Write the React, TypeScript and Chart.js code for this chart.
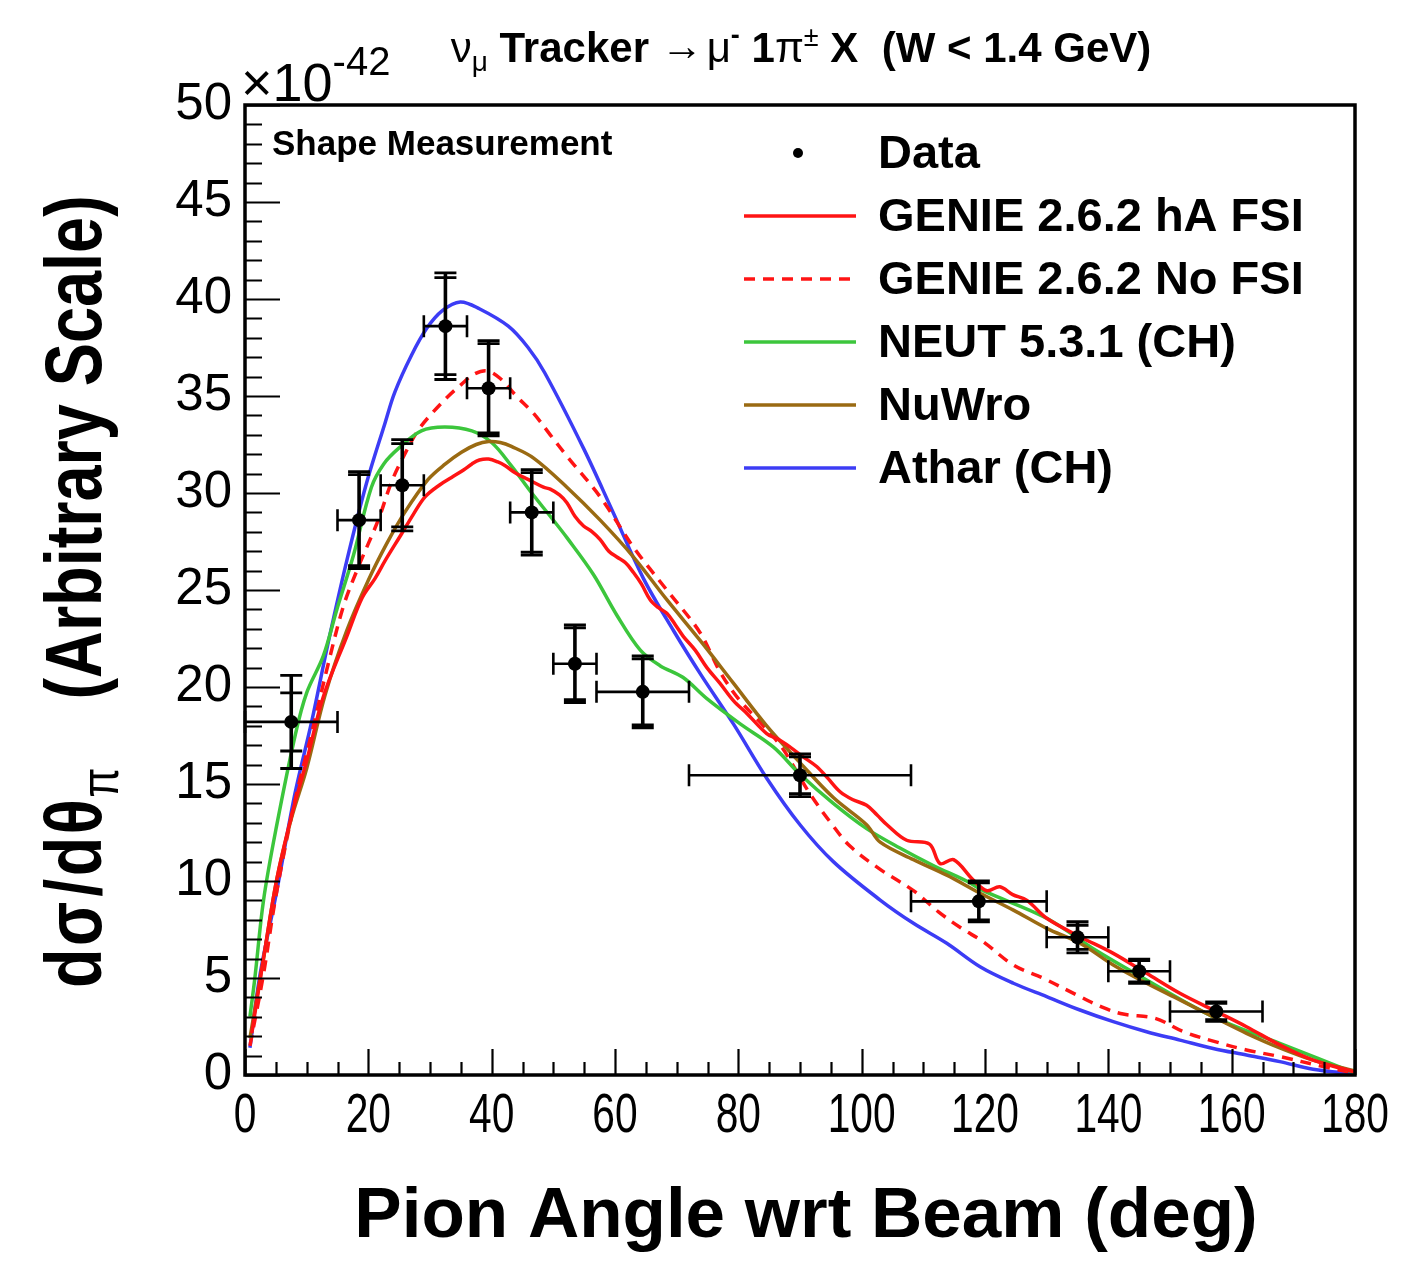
import React, { useEffect, useRef } from 'react';
import { Chart, registerables } from 'chart.js';

Chart.register(...registerables);

const FONT = "'Liberation Sans', Arial, Helvetica, sans-serif";

// Measured shape, pion angle bins (deg)
const dataAngle = [7.5, 18.5, 25.5, 32.5, 39.5, 46.5, 53.5, 64.5, 90, 119, 135, 145, 157.5];
const binLow = [0, 15, 22, 29, 36, 43, 50, 57, 72, 108, 130, 140, 150];
const binHigh = [15, 22, 29, 36, 43, 50, 57, 72, 108, 130, 140, 150, 165];
const dataValue = [18.2, 28.6, 30.4, 38.6, 35.4, 29.0, 21.2, 19.75, 15.45, 8.95, 7.1, 5.35, 3.27];
const statErr = [1.5, 2.35, 2.15, 2.5, 2.3, 2.05, 1.85, 1.7, 0.95, 0.95, 0.62, 0.55, 0.42];
const totalErr = [2.4, 2.5, 2.35, 2.75, 2.45, 2.2, 2.0, 1.85, 1.1, 1.05, 0.8, 0.62, 0.5];

// GENIE 2.6.2 hA FSI
const genieAngle = [1.1, 3, 5.1, 7.5, 10, 12.7, 16.5, 19, 21.1, 22.7, 25.4, 27.3, 29.2, 31.5, 33.5, 35.5, 36.8, 38, 39.5, 41, 42.2, 44, 45.9, 48.4, 49.5, 51, 52.2, 53.5, 54.9, 56.3, 57.6, 59, 60.3, 61.7, 63, 64.3, 65.7, 67, 68.4, 69.8, 71.1, 73, 74.9, 77, 79.2, 81.5, 84.6, 86.5, 88.4, 90.5, 92.7, 94.5, 96.5, 98.5, 100.8, 102.5, 104.1, 107.3, 111, 112.7, 114.9, 118.1, 120.3, 122.4, 124.5, 126.8, 130, 135.4, 140.8, 146.2, 151.6, 157, 162.4, 167.8, 173.2, 180];
const genieValue = [2.15, 6.0, 10.0, 13.3, 16.2, 19.5, 22.6, 24.6, 25.6, 26.5, 27.9, 28.9, 29.8, 30.4, 30.8, 31.2, 31.5, 31.7, 31.75, 31.6, 31.4, 31.0, 30.7, 30.3, 30.2, 29.9, 29.5, 28.8, 28.3, 28.0, 27.6, 27.0, 26.7, 26.4, 25.9, 25.3, 24.5, 24.1, 23.8, 23.2, 22.6, 21.9, 21.0, 20.2, 19.3, 18.6, 17.6, 17.3, 16.9, 16.4, 15.9, 15.3, 14.6, 14.2, 13.9, 13.4, 12.9, 12.1, 11.9, 10.9, 11.1, 10.05, 9.5, 9.7, 9.3, 9.0, 8.08, 7.13, 6.27, 5.24, 4.21, 3.35, 2.49, 1.55, 0.77, 0.15];

// GENIE 2.6.2 without FSI
const genieNoFsiAngle = [0.8, 3, 5, 8, 10.8, 13.5, 16, 18.4, 21.6, 23.8, 25.9, 28, 30.3, 33, 35.1, 37, 39.2, 41.4, 44, 46.8, 49.5, 52.2, 57.6, 63, 68.4, 73.8, 77, 80, 83.5, 86.8, 89, 91.6, 95, 98.1, 103, 108.4, 112.4, 116.2, 119.7, 124.6, 129.5, 134.9, 139, 142.4, 147.6, 152.2, 157.3, 162.4, 167.8, 174.9, 180];
const genieNoFsiValue = [1.5, 5.2, 9.2, 14.0, 17.6, 21.2, 24.2, 26.2, 28.6, 30.6, 32.0, 33.2, 34.1, 35.0, 35.6, 36.1, 36.3, 35.9, 35.0, 34.1, 33.0, 31.9, 29.8, 27.2, 25.0, 22.8, 20.8, 19.4, 18.2, 17.0, 15.9, 14.5, 13.0, 11.8, 10.6, 9.5, 8.42, 7.56, 6.87, 5.67, 4.98, 4.12, 3.5, 3.14, 2.92, 2.23, 1.72, 1.29, 0.95, 0.43, 0.1];

// NEUT 5.3.1 (CH)
const neutAngle = [0.8, 1.6, 3, 5.1, 8.2, 10, 12.7, 14.9, 17.6, 20.5, 22.5, 24.9, 28.6, 32.4, 36.8, 40, 43.2, 46.5, 49.5, 52.2, 56.5, 60.3, 64.1, 67.3, 71, 74.9, 80.3, 85.7, 90, 95.4, 100.8, 106.2, 111.6, 117, 119.7, 130, 138.1, 146.2, 157, 167.8, 180];
const neutValue = [3.0, 5.0, 9.0, 12.8, 17.6, 19.7, 21.6, 24.0, 26.8, 30.3, 31.5, 32.3, 33.2, 33.4, 33.2, 32.6, 31.4, 30.0, 28.8, 27.7, 25.8, 23.7, 21.9, 21.1, 20.5, 19.4, 18.1, 16.9, 15.5, 14.0, 12.7, 11.7, 10.8, 10.0, 9.5, 8.08, 6.4, 4.9, 3.0, 1.63, 0.1];

// NuWro
const nuwroAngle = [0.8, 3, 5.1, 7.5, 10, 13, 16.5, 20, 23, 25.9, 29.7, 32.5, 35.1, 37.5, 39.5, 41.4, 43.2, 46.8, 52.2, 57.6, 63, 68.4, 73.8, 79.2, 84.6, 90, 95.4, 100.8, 103, 108.4, 113.8, 119.2, 124.6, 130, 135.4, 140.8, 146.2, 151.6, 157, 162.4, 167.8, 173.2, 180];
const nuwroValue = [1.9, 6.0, 10.0, 13.2, 15.8, 19.6, 22.9, 25.5, 27.4, 29.0, 30.7, 31.5, 32.1, 32.5, 32.65, 32.6, 32.4, 31.8, 30.3, 28.6, 26.7, 24.5, 22.4, 20.2, 18.0, 16.1, 14.3, 12.9, 12.0, 11.1, 10.3, 9.37, 8.5, 7.56, 6.79, 5.67, 4.73, 3.87, 3.0, 2.15, 1.4, 0.77, 0.2];

// Athar (CH)
const atharAngle = [0.8, 2.4, 5.1, 8.1, 10.8, 13.5, 16.5, 19.7, 22.7, 24.3, 27, 29.5, 32, 34.9, 38, 42.7, 45.9, 48.6, 54.9, 59.7, 64.6, 69.5, 74, 79.2, 84.6, 90, 95.4, 103, 108.4, 113.8, 119.2, 124.6, 130, 135.4, 140.8, 146.2, 151.6, 157, 162.4, 167.8, 173.2, 180];
const atharValue = [1.4, 5.1, 9.4, 14.5, 18.2, 22.3, 26.5, 30.5, 33.6, 35.2, 37.1, 38.5, 39.4, 39.85, 39.5, 38.6, 37.5, 36.2, 32.3, 29.0, 25.6, 22.9, 20.6, 18.1, 15.3, 12.9, 11.0, 9.02, 7.82, 6.79, 5.58, 4.73, 4.04, 3.35, 2.75, 2.23, 1.8, 1.37, 1.03, 0.69, 0.3, 0.05];

const xTicks = { min: 0, max: 180, step: 20, minor: 5 };
const yTicks = { min: 0, max: 50, step: 5, minor: 1 };

const toXY = (xs: number[], ys: number[]) => xs.map((x, i) => ({ x, y: ys[i] }));

function drawErrorBars(chart: any) {
  const { ctx, scales } = chart;
  const xs = scales.x;
  const ys = scales.y;
  ctx.save();
  ctx.strokeStyle = '#000';
  ctx.lineCap = 'butt';
  for (let i = 0; i < dataAngle.length; i++) {
    const px = xs.getPixelForValue(dataAngle[i]);
    const py = ys.getPixelForValue(dataValue[i]);
    const xl = xs.getPixelForValue(binLow[i]);
    const xh = xs.getPixelForValue(binHigh[i]);
    // horizontal bin width
    ctx.lineWidth = 2.6;
    ctx.beginPath();
    ctx.moveTo(xl, py);
    ctx.lineTo(xh, py);
    ctx.moveTo(xl, py - 11);
    ctx.lineTo(xl, py + 11);
    ctx.moveTo(xh, py - 11);
    ctx.lineTo(xh, py + 11);
    ctx.stroke();
    // vertical total + statistical
    const yt = ys.getPixelForValue(dataValue[i] + totalErr[i]);
    const yb = ys.getPixelForValue(dataValue[i] - totalErr[i]);
    const st = ys.getPixelForValue(dataValue[i] + statErr[i]);
    const sb = ys.getPixelForValue(dataValue[i] - statErr[i]);
    ctx.lineWidth = 3.6;
    ctx.beginPath();
    ctx.moveTo(px, yt);
    ctx.lineTo(px, yb);
    ctx.stroke();
    ctx.lineWidth = 2.8;
    ctx.beginPath();
    for (const yy of [yt, yb, st, sb]) {
      ctx.moveTo(px - 11, yy);
      ctx.lineTo(px + 11, yy);
    }
    ctx.stroke();
  }
  ctx.restore();
}

function drawParts(ctx: any, parts: any[], x: number, y: number) {
  let cx = x;
  for (const p of parts) {
    ctx.font = p.f;
    ctx.fillText(p.t, cx, y + p.dy);
    cx += ctx.measureText(p.t).width + (p.gap || 0);
  }
  return cx;
}

function partsWidth(ctx: any, parts: any[]) {
  let w = 0;
  for (const p of parts) {
    ctx.font = p.f;
    w += ctx.measureText(p.t).width + (p.gap || 0);
  }
  return w;
}

const titleParts = [
  { t: 'ν', f: `42px ${FONT}`, dy: 0 },
  { t: 'μ', f: `28px ${FONT}`, dy: 9 },
  { t: ' Tracker ', f: `bold 42px ${FONT}`, dy: 0 },
  { t: '→', f: `42px ${FONT}`, dy: -2, gap: 4 },
  { t: 'μ', f: `42px ${FONT}`, dy: 0 },
  { t: '-', f: `bold 27px ${FONT}`, dy: -18 },
  { t: ' 1', f: `bold 42px ${FONT}`, dy: 0 },
  { t: 'π', f: `42px ${FONT}`, dy: 0 },
  { t: '±', f: `27px ${FONT}`, dy: -16 },
  { t: ' X  (W < 1.4 GeV)', f: `bold 42px ${FONT}`, dy: 0 },
];

const yTitleParts = [
  { t: 'd', f: `bold 80px ${FONT}`, dy: 0, gap: 3 },
  { t: 'σ', f: `bold 80px ${FONT}`, dy: 0, gap: 6 },
  { t: '/', f: `bold 80px ${FONT}`, dy: 0, gap: 3 },
  { t: 'd', f: `bold 80px ${FONT}`, dy: 0, gap: 3 },
  { t: 'θ', f: `bold 80px ${FONT}`, dy: 0, gap: 2 },
  { t: 'π', f: `54px ${FONT}`, dy: 17, gap: 84 },
  { t: '(Arbitrary Scale)', f: `bold 80px ${FONT}`, dy: 0 },
];

const decorations = {
  id: 'decorations',
  beforeDatasetDraw(chart: any, args: any) {
    if (chart.data.datasets[args.index].label === 'Data') drawErrorBars(chart);
  },
  afterDraw(chart: any) {
    const { ctx, chartArea: a, scales } = chart;
    ctx.save();
    // inward tick marks
    ctx.strokeStyle = '#000';
    ctx.lineWidth = 2.2;
    ctx.beginPath();
    for (let v = yTicks.min; v <= yTicks.max + 1e-9; v += yTicks.minor) {
      const py = Math.round(scales.y.getPixelForValue(v)) + 0.5;
      const major = Math.abs(v / yTicks.step - Math.round(v / yTicks.step)) < 1e-6;
      ctx.moveTo(a.left, py);
      ctx.lineTo(a.left + (major ? 35 : 17), py);
    }
    for (let v = xTicks.min; v <= xTicks.max + 1e-9; v += xTicks.minor) {
      const px = Math.round(scales.x.getPixelForValue(v)) + 0.5;
      const major = Math.abs(v / xTicks.step - Math.round(v / xTicks.step)) < 1e-6;
      ctx.moveTo(px, a.bottom);
      ctx.lineTo(px, a.bottom - (major ? 26 : 13));
    }
    ctx.stroke();
    // frame
    ctx.lineWidth = 3.5;
    ctx.strokeRect(a.left, a.top, a.right - a.left, a.bottom - a.top);

    ctx.fillStyle = '#000';
    ctx.textBaseline = 'alphabetic';
    ctx.textAlign = 'left';

    // x tick labels (condensed)
    ctx.font = `55px ${FONT}`;
    ctx.textAlign = 'center';
    for (const t of scales.x.ticks) {
      const px = scales.x.getPixelForValue(t.value);
      ctx.save();
      ctx.translate(px, 1132);
      ctx.scale(0.74, 1);
      ctx.fillText(String(t.value), 0, 0);
      ctx.restore();
    }
    ctx.textAlign = 'left';

    // title
    const tw = partsWidth(ctx, titleParts);
    drawParts(ctx, titleParts, (a.left + a.right) / 2 + 1 - tw / 2, 62);

    // exponent marker
    drawParts(ctx, [
      { t: '×10', f: `54px ${FONT}`, dy: 0 },
      { t: '-42', f: `40px ${FONT}`, dy: -26 },
    ], 241, 101);

    // annotation
    ctx.font = `bold 35px ${FONT}`;
    ctx.fillText('Shape Measurement', 272, 155);

    // x-axis title
    ctx.font = `bold 71px ${FONT}`;
    ctx.textAlign = 'center';
    ctx.fillText('Pion Angle wrt Beam (deg)', 806, 1237);
    ctx.textAlign = 'left';

    // y-axis title (condensed, rotated)
    ctx.save();
    ctx.translate(101, 988);
    ctx.rotate(-Math.PI / 2);
    ctx.scale(0.81, 1);
    drawParts(ctx, yTitleParts, 0, 0);
    ctx.restore();

    // legend
    const rowStart = 153;
    const rowStep = 63;
    ctx.textBaseline = 'middle';
    chart.data.datasets.forEach((ds: any, i: number) => {
      const ry = rowStart + i * rowStep;
      if (ds.label === 'Data') {
        ctx.beginPath();
        ctx.arc(798, ry, 5, 0, Math.PI * 2);
        ctx.fill();
      } else {
        ctx.save();
        ctx.strokeStyle = ds.borderColor;
        ctx.lineWidth = 3.4;
        ctx.setLineDash(ds.borderDash || []);
        ctx.beginPath();
        ctx.moveTo(744, ry);
        ctx.lineTo(856, ry);
        ctx.stroke();
        ctx.restore();
      }
      ctx.font = `bold 47px ${FONT}`;
      ctx.fillStyle = '#000';
      ctx.fillText(ds.label, 878, ry + 2);
    });
    ctx.restore();
  },
};

const curve = (label: string, xs: number[], ys: number[], color: string, order: number, dash?: number[]) => ({
  type: 'line',
  label,
  data: toXY(xs, ys),
  borderColor: color,
  borderWidth: 3.5,
  borderDash: dash,
  pointRadius: 0,
  fill: false,
  tension: 0.35,
  order,
});

export default function App() {
  const ref = useRef<HTMLCanvasElement>(null);

  useEffect(() => {
    if (!ref.current) return;
    const chart = new Chart(ref.current, {
      type: 'line',
      data: {
        datasets: [
          {
            type: 'scatter',
            label: 'Data',
            data: toXY(dataAngle, dataValue),
            backgroundColor: '#000',
            borderColor: '#000',
            pointRadius: 7,
            pointBorderWidth: 0,
            showLine: false,
            order: 0,
          } as any,
          curve('GENIE 2.6.2 hA FSI', genieAngle, genieValue, '#ff1414', 1),
          curve('GENIE 2.6.2 No FSI', genieNoFsiAngle, genieNoFsiValue, '#ff1414', 4, [11, 8]),
          curve('NEUT 5.3.1 (CH)', neutAngle, neutValue, '#3cc63c', 3),
          curve('NuWro', nuwroAngle, nuwroValue, '#9a6a12', 2),
          curve('Athar (CH)', atharAngle, atharValue, '#3c3cf5', 5),
        ] as any,
      },
      options: {
        animation: false,
        responsive: false,
        devicePixelRatio: 1,
        events: [],
        layout: { padding: { top: 105, right: 62, left: 0, bottom: 0 } },
        plugins: {
          legend: { display: false },
          tooltip: { enabled: false },
          title: { display: false },
        },
        scales: {
          x: {
            type: 'linear',
            min: xTicks.min,
            max: xTicks.max,
            grid: { display: false, drawTicks: false },
            border: { display: false },
            ticks: { stepSize: xTicks.step, autoSkip: false, maxRotation: 0, display: false },
            afterFit: (s: any) => { s.height = 190; },
          },
          y: {
            type: 'linear',
            min: yTicks.min,
            max: yTicks.max,
            grid: { display: false, drawTicks: false },
            border: { display: false },
            ticks: {
              stepSize: yTicks.step,
              autoSkip: false,
              padding: 13,
              color: '#000',
              font: { family: FONT, size: 51 },
            },
            afterFit: (s: any) => { s.width = 245; },
          },
        },
      } as any,
      plugins: [decorations],
    });
    return () => chart.destroy();
  }, []);

  return (
    <div style={{ position: 'absolute', left: 0, top: 0, width: 1417, height: 1265, background: '#fff' }}>
      <canvas ref={ref} width={1417} height={1265} style={{ width: 1417, height: 1265, display: 'block' }} />
    </div>
  );
}
